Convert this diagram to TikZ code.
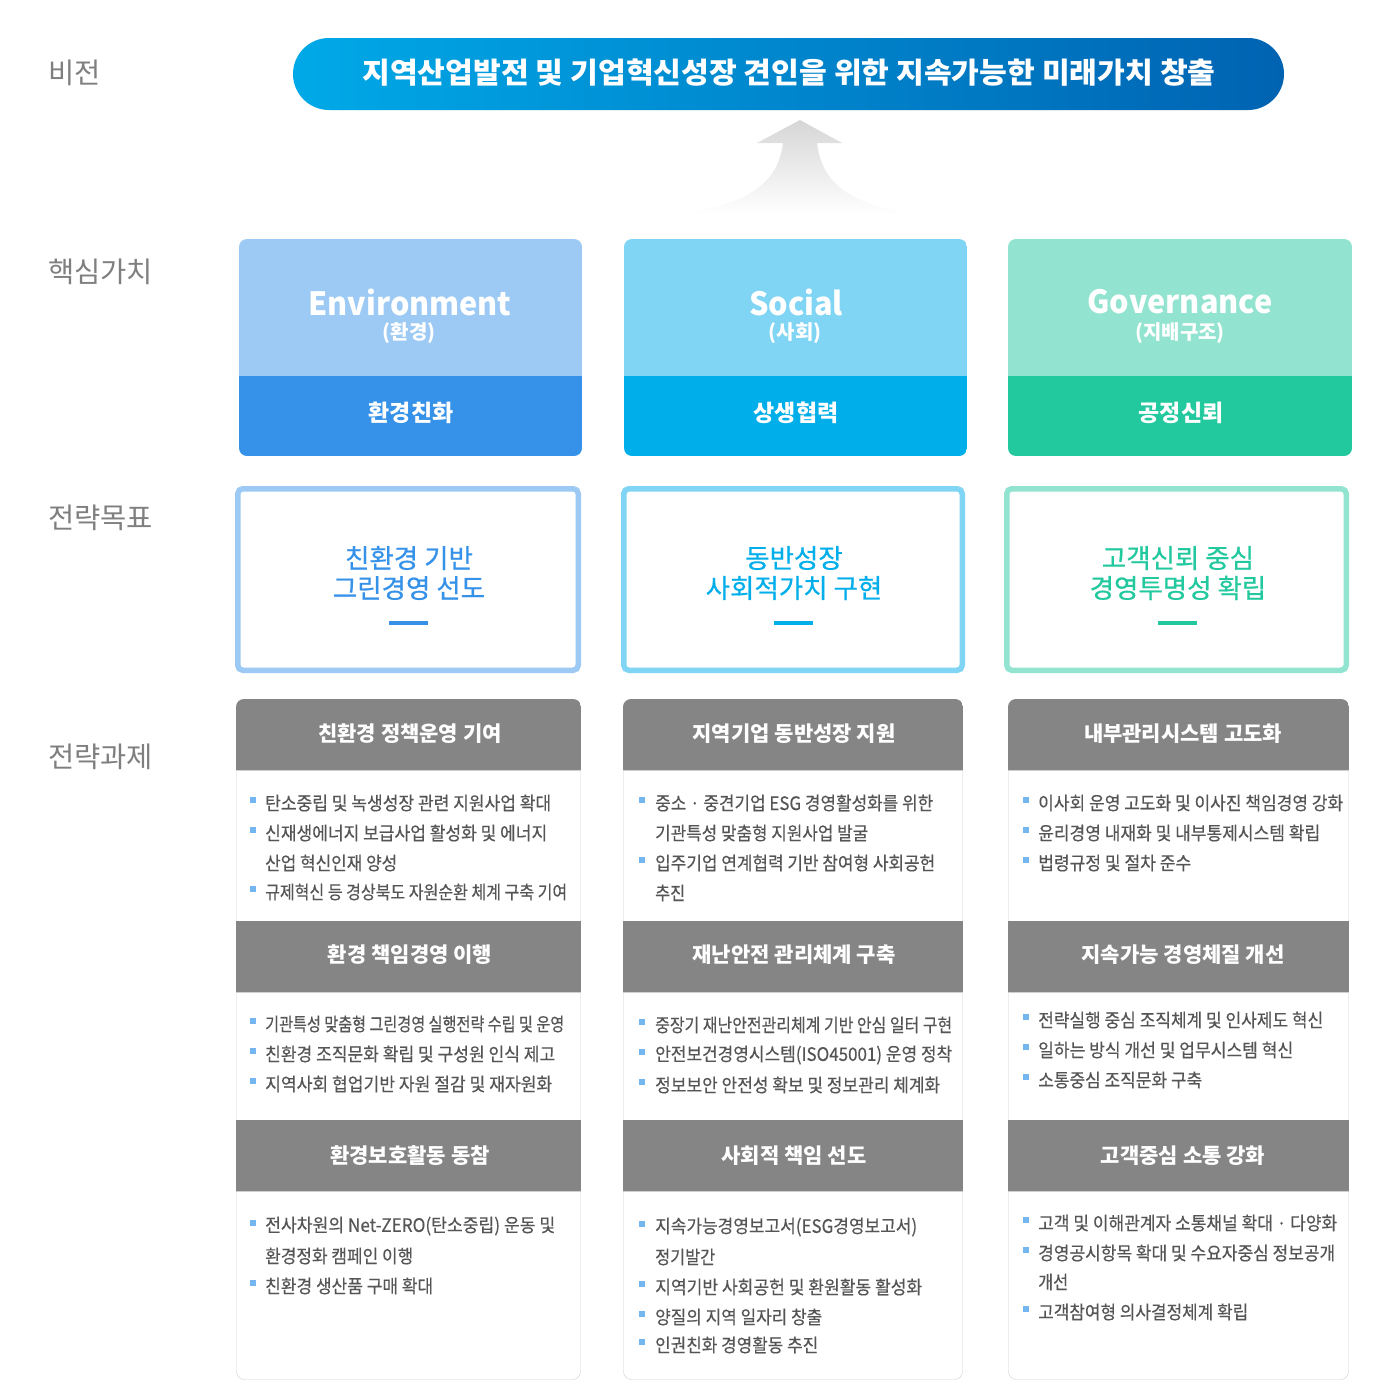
\documentclass[tikz,border=0pt]{standalone}
\usepackage{fontspec}
\usepackage{graphicx}
\setmainfont{Noto Sans CJK KR}
\newfontfamily\krmed{Noto Sans CJK KR}[FakeBold=0.35]
\newfontfamily\krgoal{Noto Sans CJK KR}[FakeBold=0.6]
\definecolor{labelgray}{HTML}{7F7F7F}
\definecolor{bodygray}{HTML}{555555}
\definecolor{hdrgray}{HTML}{858585}
\definecolor{colborder}{HTML}{CFCFCF}
\definecolor{bulletblue}{HTML}{74B7F0}
\definecolor{bannerL}{HTML}{00A9E7}
\definecolor{bannerR}{HTML}{0063B2}
\definecolor{envL}{HTML}{9CCAF4}
\definecolor{envD}{HTML}{3592E8}
\definecolor{socL}{HTML}{80D4F4}
\definecolor{socD}{HTML}{00AEEA}
\definecolor{govL}{HTML}{92E3CF}
\definecolor{govD}{HTML}{22C89E}
\definecolor{arrowgray}{HTML}{D6D6D6}
\newcommand\corebox[4]{%
  \begin{scope}
  \clip[rounded corners=8pt] (#1,239) rectangle (#2,456);
  \fill[#3] (#1,239) rectangle (#2,376);
  \fill[#4] (#1,376) rectangle (#2,456);
  \end{scope}}
\newcommand\goalbox[3]{%
  \draw[line width=5.5pt, #3, rounded corners=5pt] (#1+2.75,488.75) rectangle (#2-2.75,670.25);}
\newcommand\taskcol[2]{%
  \draw[colborder, rounded corners=8pt] (#1+0.5,699.5) rectangle (#2-0.5,1379.5);
  \begin{scope}
  \clip[rounded corners=8pt] (#1,699) rectangle (#2,1380);
  \fill[hdrgray] (#1,699) rectangle (#2,770);
  \fill[hdrgray] (#1,921) rectangle (#2,992);
  \fill[hdrgray] (#1,1120) rectangle (#2,1191);
  \end{scope}
  \draw[colborder] (#1,770.5) -- (#2,770.5);
  \draw[colborder] (#1,992.5) -- (#2,992.5);
  \draw[colborder] (#1,1191.5) -- (#2,1191.5);}
% name, bullet x, text x, y, width, text
\newcommand\bitem[6]{%
  \node[bulletsq] (#1b) at (#2,#4-3) {};
  \node[bodytext] (#1) at (#3,#4) {\resizebox{#5pt}{\height}{#6}};}
\newcommand\citem[5]{%
  \node[bodytext] (#1) at (#2,#3) {\resizebox{#4pt}{\height}{#5}};}
\begin{document}
\begin{tikzpicture}[x=1pt,y=-1pt,
  sidelabel/.style={anchor=west, inner sep=0, text=labelgray, font=\fontsize{28.5}{28.5}\selectfont},
  hdrtext/.style={inner sep=0, text=white, font=\bfseries\fontsize{21}{21}\selectfont},
  bodytext/.style={anchor=west, inner sep=0, text=bodygray, font=\krmed\fontsize{18.5}{18.5}\selectfont},
  bulletsq/.style={fill=bulletblue, minimum size=6pt, inner sep=0},
  coretitle/.style={inner sep=0, text=white, font=\bfseries\fontsize{32}{32}\selectfont},
  coresub/.style={inner sep=0, text=white, font=\bfseries\fontsize{20}{20}\selectfont},
  corevalue/.style={inner sep=0, text=white, font=\bfseries\fontsize{23}{23}\selectfont},
  goaltext/.style={inner sep=0, align=center, font=\krgoal\fontsize{26.5}{30}\selectfont}]
\useasboundingbox (0,0) rectangle (1400,1400);
\fill[white] (0,0) rectangle (1400,1400);

% side labels
\node[sidelabel] (lvision) at (48,73) {비전};
\node[sidelabel] (lcore) at (48,272) {핵심가치};
\node[sidelabel] (lgoal) at (48,518) {전략목표};
\node[sidelabel] (ltask) at (48,757) {전략과제};

% vision banner
\path[left color=bannerL, right color=bannerR, rounded corners=36pt] (293,38) rectangle (1284,110);
\node[inner sep=0, text=white] (vision) at (789,73) {\resizebox{853pt}{\height}{\bfseries\fontsize{29}{29}\selectfont 지역산업발전 및 기업혁신성장 견인을 위한 지속가능한 미래가치 창출}};

% arrow
\coordinate (arrowtip) at (800,120);
\path[top color=arrowgray, bottom color=white] (arrowtip) -- (842,143) -- (817,143)
  .. controls (822,185) and (852,205) .. (915,214) -- (680,214)
  .. controls (745,205) and (778,185) .. (783,143) -- (757,143) -- cycle;

% core values
\corebox{239}{582}{envL}{envD}
\corebox{624}{967}{socL}{socD}
\corebox{1008}{1352}{govL}{govD}
\node[coretitle] (envT) at (410,302) {\resizebox{203pt}{\height}{Environment}};
\node[coresub] (envS) at (409,333) {(환경)};
\node[corevalue] (envV) at (411,413) {환경친화};
\node[coretitle] (socT) at (796,302) {\resizebox{94pt}{\height}{Social}};
\node[coresub] (socS) at (795,333) {(사회)};
\node[corevalue] (socV) at (796,413) {상생협력};
\node[coretitle] (govT) at (1180,302) {\resizebox{185pt}{\height}{Governance}};
\node[coresub] (govS) at (1180,333) {(지배구조)};
\node[corevalue] (govV) at (1181,413) {공정신뢰};

% strategic goals
\goalbox{235}{581}{envL}
\goalbox{621}{965}{socL}
\goalbox{1004}{1349}{govL}
\node[goaltext, text=envD] (envG) at (409,573) {친환경 기반\\그린경영 선도};
\node[goaltext, text=socD] (socG) at (794,573) {동반성장\\사회적가치 구현};
\node[goaltext, text=govD] (govG) at (1178,573) {고객신뢰 중심\\경영투명성 확립};
\fill[envD] (389,620.5) rectangle (428,624.5);
\fill[socD] (774,620.5) rectangle (813,624.5);
\fill[govD] (1158,620.5) rectangle (1197,624.5);

% task columns
\taskcol{236}{581}
\taskcol{623}{963}
\taskcol{1008}{1349}

\node[hdrtext] (h11) at (410,734) {친환경 정책운영 기여};
\node[hdrtext] (h12) at (410,955) {환경 책임경영 이행};
\node[hdrtext] (h13) at (410,1156) {환경보호활동 동참};
\node[hdrtext] (h21) at (794,734) {지역기업 동반성장 지원};
\node[hdrtext] (h22) at (794,955) {재난안전 관리체계 구축};
\node[hdrtext] (h23) at (794,1156) {사회적 책임 선도};
\node[hdrtext] (h31) at (1183,734) {내부관리시스템 고도화};
\node[hdrtext] (h32) at (1183,955) {지속가능 경영체질 개선};
\node[hdrtext] (h33) at (1183,1156) {고객중심 소통 강화};

% left column items
\bitem{a1}{253}{265}{803}{286}{탄소중립 및 녹생성장 관련 지원사업 확대}
\bitem{a2}{253}{265}{833}{282}{신재생에너지 보급사업 활성화 및 에너지}
\citem{a3}{265}{863}{132}{산업 혁신인재 양성}
\bitem{a4}{253}{265}{892}{302}{규제혁신 등 경상북도 자원순환 체계 구축 기여}
\bitem{a5}{253}{265}{1024}{299}{기관특성 맞춤형 그린경영 실행전략 수립 및 운영}
\bitem{a6}{253}{265}{1054}{290}{친환경 조직문화 확립 및 구성원 인식 제고}
\bitem{a7}{253}{265}{1084}{287}{지역사회 협업기반 자원 절감 및 재자원화}
\bitem{a8}{253}{265}{1226}{290}{전사차원의 Net-ZERO(탄소중립) 운동 및}
\citem{a9}{265}{1256}{148}{환경정화 캠페인 이행}
\bitem{a10}{253}{265}{1286}{168}{친환경 생산품 구매 확대}

% middle column items
\bitem{b1}{642}{655}{803}{278}{중소 · 중견기업 ESG 경영활성화를 위한}
\citem{b2}{655}{833}{213}{기관특성 맞춤형 지원사업 발굴}
\bitem{b3}{642}{655}{863}{280}{입주기업 연계협력 기반 참여형 사회공헌}
\citem{b4}{655}{893}{30}{추진}
\bitem{b5}{642}{655}{1025}{297}{중장기 재난안전관리체계 기반 안심 일터 구현}
\bitem{b6}{642}{655}{1055}{297}{안전보건경영시스템(ISO45001) 운영 정착}
\bitem{b7}{642}{655}{1085}{285}{정보보안 안전성 확보 및 정보관리 체계화}
\bitem{b8}{642}{655}{1227}{262}{지속가능경영보고서(ESG경영보고서)}
\citem{b9}{655}{1257}{60}{정기발간}
\bitem{b10}{642}{655}{1287}{267}{지역기반 사회공헌 및 환원활동 활성화}
\bitem{b11}{642}{655}{1317}{167}{양질의 지역 일자리 창출}
\bitem{b12}{642}{655}{1345}{163}{인권친화 경영활동 추진}

% right column items
\bitem{c1}{1026}{1038}{803}{305}{이사회 운영 고도화 및 이사진 책임경영 강화}
\bitem{c2}{1026}{1038}{833}{282}{윤리경영 내재화 및 내부통제시스템 확립}
\bitem{c3}{1026}{1038}{863}{153}{법령규정 및 절차 준수}
\bitem{c4}{1026}{1038}{1020}{285}{전략실행 중심 조직체계 및 인사제도 혁신}
\bitem{c5}{1026}{1038}{1050}{255}{일하는 방식 개선 및 업무시스템 혁신}
\bitem{c6}{1026}{1038}{1080}{164}{소통중심 조직문화 구축}
\bitem{c7}{1026}{1038}{1223}{299}{고객 및 이해관계자 소통채널 확대 · 다양화}
\bitem{c8}{1026}{1038}{1253}{297}{경영공시항목 확대 및 수요자중심 정보공개}
\citem{c9}{1038}{1282}{30}{개선}
\bitem{c10}{1026}{1038}{1312}{210}{고객참여형 의사결정체계 확립}
\end{tikzpicture}
\end{document}
